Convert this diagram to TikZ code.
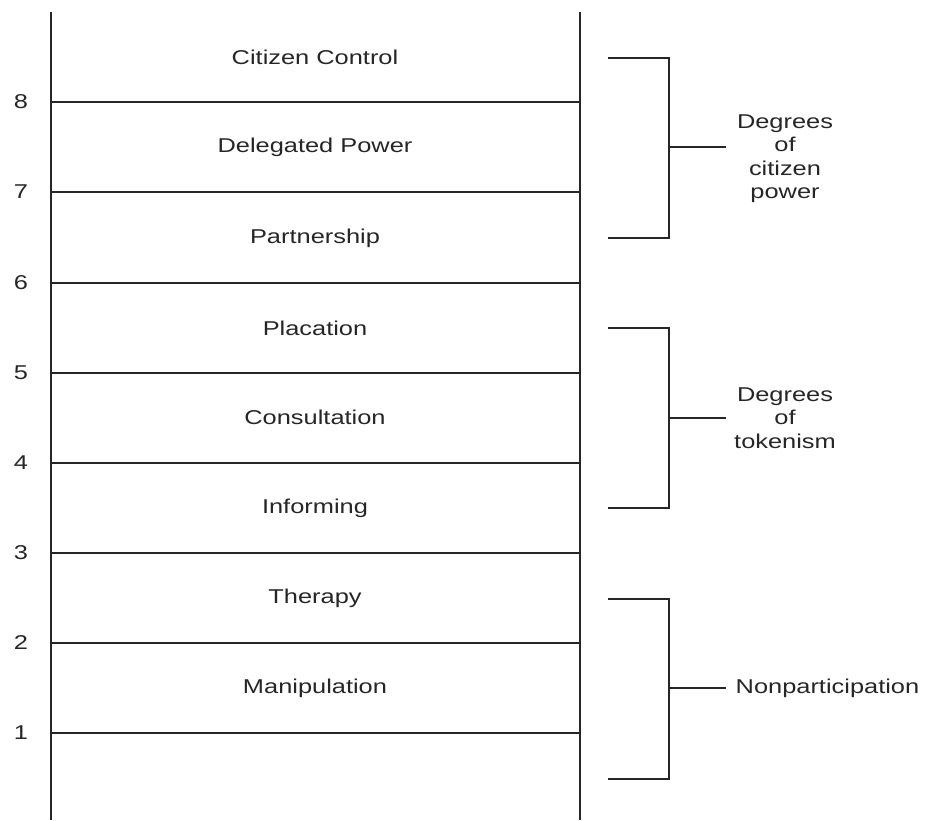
\documentclass[tikz,border=0pt]{standalone}
\usepackage{fontspec}
\setmainfont[FakeStretch=1.27]{Liberation Sans}
\begin{document}
\begin{tikzpicture}[x=1pt, y=-1pt, line width=1.4pt, draw=black!85,
    lbl/.style={font=\fontsize{20}{23.5}\selectfont, text=black!85, inner sep=0pt},
    grp/.style={lbl, align=center}]
    \useasboundingbox (0,0) rectangle (927,820);
    % ladder sides
    \coordinate (lt) at (51,12);  \coordinate (lb) at (51,820);
    \coordinate (rt) at (580,12); \coordinate (rb) at (580,820);
    \draw (lt) -- (lb);
    \draw (rt) -- (rb);
    % rungs and their numbers
    \foreach \n/\y in {8/102, 7/192, 6/283, 5/373, 4/463, 3/553, 2/643, 1/733} {
        \coordinate (ra\n) at (51,\y);
        \coordinate (rz\n) at (580,\y);
        \draw (ra\n) -- (rz\n);
        \node[lbl] (num\n) at (21,\y) {\n};
    }
    % steps of the ladder
    \foreach \s/\txt/\y in {control/Citizen Control/57, delegated/Delegated Power/147,
        partner/Partnership/238, placation/Placation/328, consult/Consultation/417,
        inform/Informing/508, therapy/Therapy/598, manip/Manipulation/688}
        \node[lbl] (\s) at (315,\y) {\txt};
    % brackets
    \foreach \b/\t/\m/\e in {pw/58/147/238, tk/328/418/508, np/599/688/779} {
        \coordinate (\b top) at (608,\t);
        \coordinate (\b bot) at (608,\e);
        \coordinate (\b mid) at (669,\m);
        \coordinate (\b tip) at (726,\m);
        \draw (\b top) -| (\b mid) |- (\b bot);
        \draw (\b mid) -- (\b tip);
    }
    \node[grp] (power) at (785,158.5) {Degrees\\of\\citizen\\power};
    \node[grp] (token) at (785,418) {Degrees\\of\\tokenism};
    \node[lbl, anchor=west] (nonpart) at (735,688) {Nonparticipation};
\end{tikzpicture}
\end{document}
